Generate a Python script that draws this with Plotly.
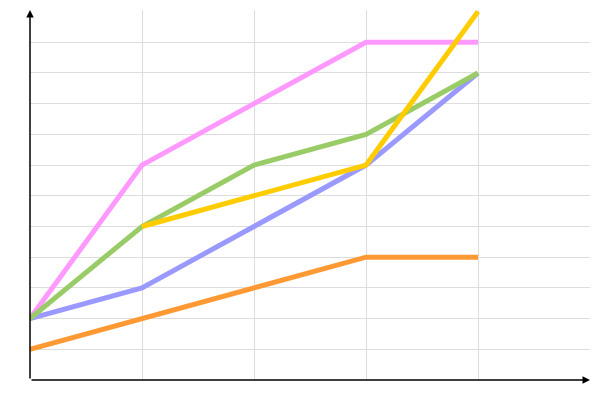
import plotly.graph_objects as go

x_vals = [0, 1, 2, 3, 4]
pink = [2, 7, 9, 11, 11]
green = [2, 5, 7, 8, 10]
yellow = [None, 5, 6, 7, 12]
blue = [2, 3, 5, 7, 10]
orange = [1, 2, 3, 4, 4]

series = [
    ("pink", pink, "#FF99FF"),
    ("orange", orange, "#FF9933"),
    ("blue", blue, "#9999FF"),
    ("green", green, "#99CC66"),
    ("yellow", yellow, "#FFCC00"),
]

fig = go.Figure()
for name, ys, col in series:
    fig.add_trace(go.Scatter(x=x_vals, y=ys, mode="lines", name=name,
                             line=dict(color=col, width=5), connectgaps=False))

fig.update_layout(
    width=600, height=400,
    margin=dict(l=22, r=18, t=2, b=28),
    plot_bgcolor="white", paper_bgcolor="white",
    showlegend=False,
    xaxis=dict(range=[0, 5], tickvals=[1, 2, 3, 4], showticklabels=False,
               showgrid=True, gridcolor="#DDDDDD", gridwidth=1,
               zeroline=False, showline=False),
    yaxis=dict(range=[0, 12.05], tickvals=list(range(1, 12)), showticklabels=False,
               showgrid=True, gridcolor="#DDDDDD", gridwidth=1,
               zeroline=False, showline=False),
    annotations=[
        dict(x=0, y=1, xref="paper", yref="paper", ax=0, ay=370, axref="pixel", ayref="pixel",
             text="", showarrow=True, arrowhead=2, arrowsize=1, arrowwidth=1.5, arrowcolor="black"),
        dict(x=1, y=0, xref="paper", yref="paper", ax=-560, ay=0, axref="pixel", ayref="pixel",
             text="", showarrow=True, arrowhead=2, arrowsize=1, arrowwidth=1.5, arrowcolor="black"),
    ],
)

fig.write_html("out.html")
